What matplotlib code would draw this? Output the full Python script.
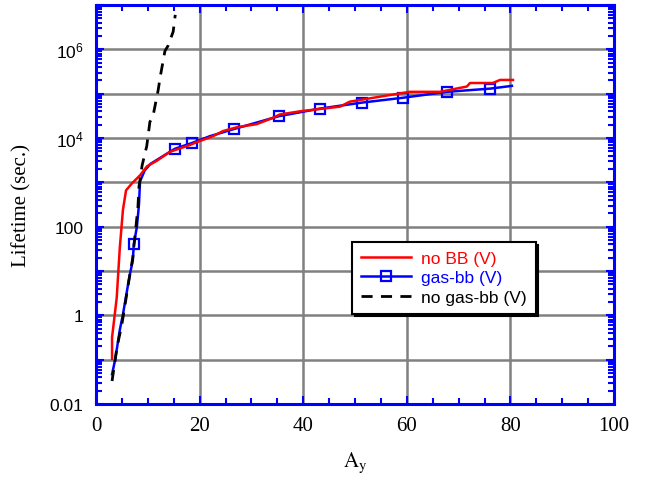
import numpy as np
import matplotlib
matplotlib.use('Agg')
import matplotlib.pyplot as plt
from matplotlib.ticker import FixedLocator, FuncFormatter, MultipleLocator, LogLocator, NullFormatter
from matplotlib.lines import Line2D

plt.rcParams['font.family'] = ['Liberation Sans', 'DejaVu Sans']
plt.rcParams['mathtext.fontset'] = 'custom'
plt.rcParams['mathtext.rm'] = 'Liberation Sans'
plt.rcParams['mathtext.it'] = 'Liberation Sans:italic'

# no BB (V)
nobb_x = [3.1, 3.1, 3.6, 4.0, 4.6, 5.2, 5.8, 6.95, 8.5, 9.85, 11.8, 14.3, 17.6, 20.1,
          22.6, 24.5, 27.2, 31.0, 34.0, 35.5, 39.4, 47.1, 49.0, 56.2, 60.6, 66.4,
          71.6, 72.2, 76.6, 78.0, 80.5]
nobb_y = [0.105, 0.32, 1.0, 2.5, 34, 240, 660, 950, 1440, 2300, 3100, 4900, 6600, 8600,
          11000, 14300, 17500, 20500, 28000, 34000, 40000, 51000, 66000, 91000, 110000,
          110000, 145000, 174000, 174000, 204000, 204000]

# gas-bb (V)
gas_x = [3.1, 3.7, 4.6, 5.2, 6.5, 7.1, 7.3, 7.9, 8.3, 8.5, 9.4, 10.5, 15.2, 18.5, 22.0,
         26.7, 35.3, 43.2, 51.4, 59.3, 67.8, 76.1, 80.3]
gas_y = [0.047, 0.1, 0.47, 1.05, 8, 17, 40, 100, 320, 1050, 1850, 2600, 5700, 7700, 11000,
         16000, 31000, 46000, 63000, 81000, 110000, 130000, 150000]
gas_marked = [6, 12, 13, 15, 16, 17, 18, 19, 20, 21]

# no gas-bb (V)
nogas_x = [3.1, 4.05, 5.0, 5.6, 6.2, 7.1, 8.1, 8.3, 8.9, 9.8, 10.4, 11.0, 12.0, 12.4,
           13.3, 13.9, 14.9, 15.3]
nogas_y = [0.033, 0.19, 0.63, 1.7, 4.8, 20, 280, 800, 2400, 6600, 23000, 31000, 120000,
           240000, 9.1e5, 1.2e6, 2.5e6, 6.0e6]

ytick_labels = {-2: '0.01', 0: '1', 2: '100', 4: r'$\mathregular{10^4}$', 6: r'$\mathregular{10^6}$'}

fig = plt.figure(figsize=(6.45, 4.85), dpi=100)
ax = fig.add_axes([96 / 645, 80 / 485, 518 / 645, 399 / 485])

ax.plot(gas_x, gas_y, color='blue', lw=1.8, marker='s', markevery=gas_marked,
        markersize=7.5, markerfacecolor='none', markeredgewidth=1.6, zorder=3)
ax.plot(nobb_x, nobb_y, color='red', lw=1.8, zorder=4)
ax.plot(nogas_x, nogas_y, color='black', lw=2, dashes=(4, 3), zorder=4)

ax.set_yscale('log')
ax.set_xlim(0, 100)
ax.set_ylim(0.01, 1e7)

ax.xaxis.set_major_locator(MultipleLocator(20))
ax.xaxis.set_minor_locator(MultipleLocator(5))
ax.yaxis.set_major_locator(FixedLocator([10.0 ** k for k in range(-2, 8)]))
ax.yaxis.set_minor_locator(LogLocator(base=10, subs=np.arange(2, 10), numticks=20))
ax.yaxis.set_minor_formatter(NullFormatter())
ax.yaxis.set_major_formatter(FuncFormatter(
    lambda v, p: ytick_labels.get(int(round(np.log10(v))), '')))

ax.grid(True, which='major', color='#808080', lw=1.8)
ax.set_axisbelow(True)

for s in ax.spines.values():
    s.set_color('blue')
    s.set_linewidth(2.2)
    s.set_zorder(5)

ax.tick_params(which='both', direction='in', color='blue', width=1.5,
               top=True, right=True)
ax.tick_params(which='major', length=6)
ax.tick_params(which='minor', length=4)
ax.tick_params(axis='x', labelsize=15, pad=9)
ax.tick_params(axis='y', labelsize=12.5, pad=9)
for lab in ax.get_xticklabels():
    lab.set_family('Liberation Serif')

ax.set_ylabel('Lifetime (sec.)', family='Liberation Serif', fontsize=15, labelpad=13)
xl = ax.set_xlabel(r'$\mathrm{A_y}$', fontsize=15, labelpad=10)
xl.set_math_fontfamily('stix')

handles = [Line2D([], [], color='red', lw=1.8),
           Line2D([], [], color='blue', lw=1.8, marker='s', markersize=7.5,
                  markerfacecolor='none', markeredgewidth=1.6),
           Line2D([], [], color='black', lw=2, dashes=(4, 3))]
leg = ax.legend(handles, ['no BB (V)', 'gas-bb (V)', 'no gas-bb (V)'],
                loc='upper left', bbox_to_anchor=(0.494, 0.406), borderaxespad=0,
                fontsize=12.5, handlelength=2.9, numpoints=1, fancybox=False,
                framealpha=1, edgecolor='black', labelspacing=0.25,
                handletextpad=0.6, borderpad=0.5,
                shadow={'color': 'black', 'alpha': 1})
leg.get_frame().set_linewidth(1.5)
leg.set_zorder(6)
for txt, c in zip(leg.get_texts(), ['red', 'blue', 'black']):
    txt.set_color(c)

fig.savefig('out.png', dpi=100)
